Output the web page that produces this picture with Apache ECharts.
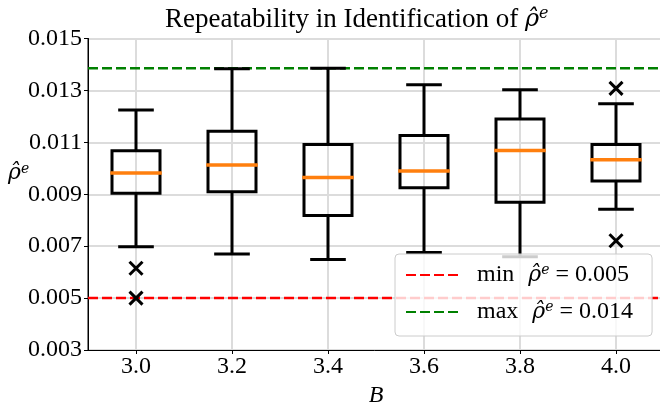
<!DOCTYPE html>
<html><head><meta charset="utf-8">
<script src="https://cdn.jsdelivr.net/npm/echarts@6/dist/echarts.min.js"></script>
<style>html,body{margin:0;padding:0;background:#fff}#c{width:660px;height:402px}</style>
</head><body><div id="c"></div>
<script>
// ---- data ----
const B = [3.0, 3.2, 3.4, 3.6, 3.8, 4.0];
const whiskerLow  = [0.00698, 0.00670, 0.00649, 0.00676, 0.00659, 0.00842];
const q1          = [0.00904, 0.00910, 0.00818, 0.00925, 0.00869, 0.00951];
const median      = [0.00982, 0.01013, 0.00965, 0.00990, 0.01069, 0.01033];
const q3          = [0.01068, 0.01143, 0.01092, 0.01126, 0.01190, 0.01092];
const whiskerHigh = [0.01225, 0.01383, 0.01385, 0.01322, 0.01303, 0.01249];
const outlierB    = [3.0, 3.0, 4.0, 4.0];
const outlierVal  = [0.00615, 0.00500, 0.01308, 0.00721];
const xTicks = [3.0, 3.2, 3.4, 3.6, 3.8, 4.0];
const yTicks = [0.003, 0.005, 0.007, 0.009, 0.011, 0.013, 0.015];
const xMin = 2.9, xMax = 4.1;
const minRho = 0.005;
const maxRho = 0.01385;
const minLabel = '0.005';
const maxLabel = '0.014';

const FONT = 'Liberation Serif';
const MFONT = 'DejaVu Serif';
function mkRich(size) {
  return {
    t: {fontFamily: FONT, fontSize: size, color: '#000'},
    p: {fontFamily: FONT, fontSize: size, width: 14},
    r: {fontFamily: MFONT, fontSize: Math.round(size * 0.9), fontStyle: 'italic', color: '#000'},
    s: {fontFamily: MFONT, fontSize: Math.round(size * 0.6), fontStyle: 'italic', color: '#000', verticalAlign: 'top'}
  };
}

const boxData = B.map((b, i) => [b, whiskerLow[i], q1[i], median[i], q3[i], whiskerHigh[i]]);
const outData = outlierB.map((b, i) => [b, outlierVal[i]]);

function renderBox(params, api) {
  const x = api.value(0);
  const lo = api.coord([x, api.value(1)]);
  const p1 = api.coord([x, api.value(2)]);
  const pm = api.coord([x, api.value(3)]);
  const p3 = api.coord([x, api.value(4)]);
  const hi = api.coord([x, api.value(5)]);
  const half = api.size([0.1, 0])[0] / 2;
  const cap = api.size([0.068, 0])[0] / 2;
  const cx = lo[0];
  const ls = {stroke: '#000', lineWidth: 3, lineCap: 'butt'};
  const cs = {stroke: '#000', lineWidth: 3, lineCap: 'square'};
  return {type: 'group', children: [
    {type: 'line', shape: {x1: cx, y1: lo[1], x2: cx, y2: p1[1]}, style: ls},
    {type: 'line', shape: {x1: cx, y1: p3[1], x2: cx, y2: hi[1]}, style: ls},
    {type: 'line', shape: {x1: cx - cap, y1: lo[1], x2: cx + cap, y2: lo[1]}, style: cs},
    {type: 'line', shape: {x1: cx - cap, y1: hi[1], x2: cx + cap, y2: hi[1]}, style: cs},
    {type: 'rect', shape: {x: cx - half, y: p3[1], width: 2 * half, height: p1[1] - p3[1]},
      style: {fill: 'none', stroke: '#000', lineWidth: 3, lineJoin: 'miter'}},
    {type: 'line', shape: {x1: cx - half, y1: pm[1], x2: cx + half, y2: pm[1]},
      style: {stroke: '#ff7f0e', lineWidth: 3.5, lineCap: 'square'}}
  ]};
}
function renderX(params, api) {
  const c = api.coord([api.value(0), api.value(1)]);
  const r = 6.5;
  const st = {stroke: '#000', lineWidth: 3, lineCap: 'butt'};
  return {type: 'group', children: [
    {type: 'line', shape: {x1: c[0] - r, y1: c[1] - r, x2: c[0] + r, y2: c[1] + r}, style: st},
    {type: 'line', shape: {x1: c[0] - r, y1: c[1] + r, x2: c[0] + r, y2: c[1] - r}, style: st}
  ]};
}

const chart = echarts.init(document.getElementById('c'), null, {renderer: 'canvas'});
chart.setOption({
  animation: false,
  backgroundColor: '#fff',
  title: {
    text: 'Repeatability in Identification of {r|ρ\u0302}{s|e}',
    left: 160, top: 1,
    textStyle: {fontFamily: FONT, fontSize: 27, fontWeight: 'normal', color: '#000', rich: mkRich(27)}
  },
  grid: {left: 88, right: -4, top: 38.5, bottom: 52, containLabel: false, outerBoundsMode: 'none',
    show: true, borderColor: '#000', borderWidth: 1, backgroundColor: 'transparent'},
  xAxis: {
    type: 'value', min: xMin, max: xMax,
    name: 'B', nameLocation: 'middle', nameGap: 27,
    nameTextStyle: {fontFamily: FONT, fontSize: 24, fontStyle: 'italic', color: '#000'},
    axisLine: {lineStyle: {color: '#000', width: 1}},
    axisTick: {show: true, length: 4, lineStyle: {color: '#000', width: 1}, customValues: xTicks},
    axisLabel: {customValues: xTicks, formatter: v => v.toFixed(1), margin: 5,
      fontFamily: FONT, fontSize: 24, color: '#000'},
    splitLine: {show: true, lineStyle: {color: '#dcdcdc', width: 2}}
  },
  yAxis: {
    type: 'value', min: 0.003, max: 0.015,
    axisLine: {show: true, lineStyle: {color: '#000', width: 1}},
    axisTick: {show: true, length: 4, lineStyle: {color: '#000', width: 1}, customValues: yTicks},
    axisLabel: {customValues: yTicks, formatter: v => v.toFixed(3), margin: 6,
      fontFamily: FONT, fontSize: 24, color: '#000'},
    splitLine: {show: true, lineStyle: {color: '#dcdcdc', width: 2}}
  },
  legend: {
    orient: 'vertical', left: 395, top: 254,
    data: ['min', 'max'],
    itemWidth: 52, itemHeight: 14, itemGap: 13,
    padding: [9, 19, 12, 10],
    itemStyle: {opacity: 0},
    backgroundColor: 'rgba(255,255,255,0.8)', borderColor: '#cccccc', borderWidth: 1, borderRadius: 4,
    formatter: n => n === 'min'
      ? '{p| }{t|min}{p| }{r|ρ\u0302}{s|e}{t| = ' + minLabel + '}'
      : '{p| }{t|max}{p| }{r|ρ\u0302}{s|e}{t| = ' + maxLabel + '}',
    textStyle: {fontFamily: FONT, fontSize: 24, color: '#000', rich: mkRich(24)}
  },
  graphic: [{
    type: 'text', x: 8, y: 162,
    style: {text: '{r|ρ\u0302}{s|e}', rich: mkRich(24), fill: '#000', font: '24px ' + FONT}
  }],
  series: [
    {name: 'min', type: 'line', data: [[xMin, minRho], [xMax, minRho]], symbol: 'none', z: 1,
      lineStyle: {color: '#ff0000', type: [10, 4], width: 2.5}, itemStyle: {color: '#ff0000'}},
    {name: 'max', type: 'line', data: [[xMin, maxRho], [xMax, maxRho]], symbol: 'none', z: 1,
      lineStyle: {color: '#008000', type: [10, 4], width: 2.5}, itemStyle: {color: '#008000'}},
    {type: 'custom', renderItem: renderBox, data: boxData, encode: {x: 0, y: [1, 2, 3, 4, 5]}, z: 3},
    {type: 'custom', renderItem: renderX, data: outData, encode: {x: 0, y: 1}, z: 3}
  ]
});
</script></body></html>
